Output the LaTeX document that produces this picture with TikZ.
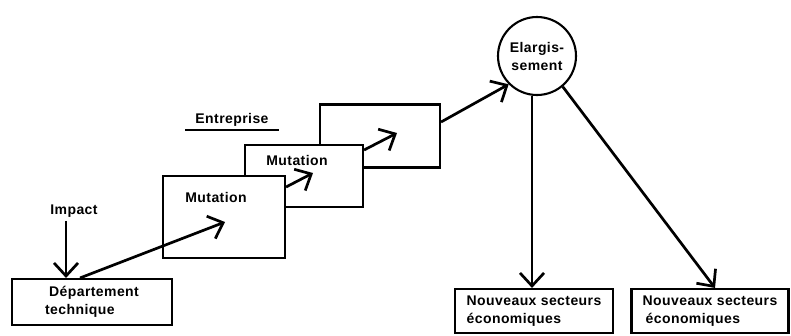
\documentclass[tikz,border=0pt]{standalone}
\usepackage{fontspec}
\setmainfont{Liberation Sans}[LetterSpace=3]
\usetikzlibrary{arrows.meta}

\begin{document}
\begin{tikzpicture}[x=1pt,y=-1pt,font=\bfseries\fontsize{14}{18}\selectfont,
  boite/.style={draw,line width=2.1pt,fill=white,inner sep=3pt},
  fleche/.style={line width=2.7pt,-{Straight Barb[length=13pt,width=24pt]}}]
\useasboundingbox (0,0) rectangle (791,335);
% les trois paliers de l'entreprise
\node[boite,minimum width=120,minimum height=63] (m3) at (380,136) {};
\node[boite,minimum width=118,minimum height=62] (m2) at (304,176) {};
\node[boite,minimum width=122,minimum height=82] (m1) at (224,217) {};
\node (lm2) at ([xshift=-7pt,yshift=-17pt]m2.north) {Mutation};
\node (lm1) at ([xshift=-8pt,yshift=-23pt]m1.north) {Mutation};
\node[inner xsep=10pt] (ent) at (232,120) {Entreprise};
\draw[line width=1.6pt] (ent.south west) -- (ent.south east);
% departement technique
\node[boite,minimum width=160,minimum height=46,align=left] (dep) at (92,302) {\hspace*{4pt}Département\\technique};
\node (imp) at (74,211) {Impact};
\draw[fleche] ([xshift=-8pt]imp.south) -- ([xshift=-8pt]imp.south |- dep.north);
% elargissement
\node[circle,draw,line width=2.1pt,minimum size=78,inner sep=0pt,align=center] (elarg) at (537,56) {Elargis-\\sement};
\node[boite,minimum width=158,minimum height=44,align=left] (nsg) at (534,311) {Nouveaux secteurs\\ économiques};
\node[boite,minimum width=157,minimum height=44,align=left] (nsd) at (710,311) {Nouveaux secteurs\\ \hspace*{3pt}économiques};
% fleches
\coordinate (p1) at (225,222);
\coordinate (p2) at (313,173);
\coordinate (p3) at (397,133);
\draw[fleche] ([xshift=-12pt]dep.north) -- (p1);
\draw[fleche] ([yshift=30pt]m1.east) -- (p2);
\draw[fleche] ([yshift=26pt]m2.east) -- (p3);
\draw[fleche] ([yshift=14pt]m3.east) -- (elarg.225);
\draw[fleche] ([xshift=-2pt]nsg.north |- elarg.south) -- ([xshift=-2pt]nsg.north);
\draw[fleche] (elarg.-50) -- ([xshift=5pt]nsd.north);
\end{tikzpicture}
\end{document}
